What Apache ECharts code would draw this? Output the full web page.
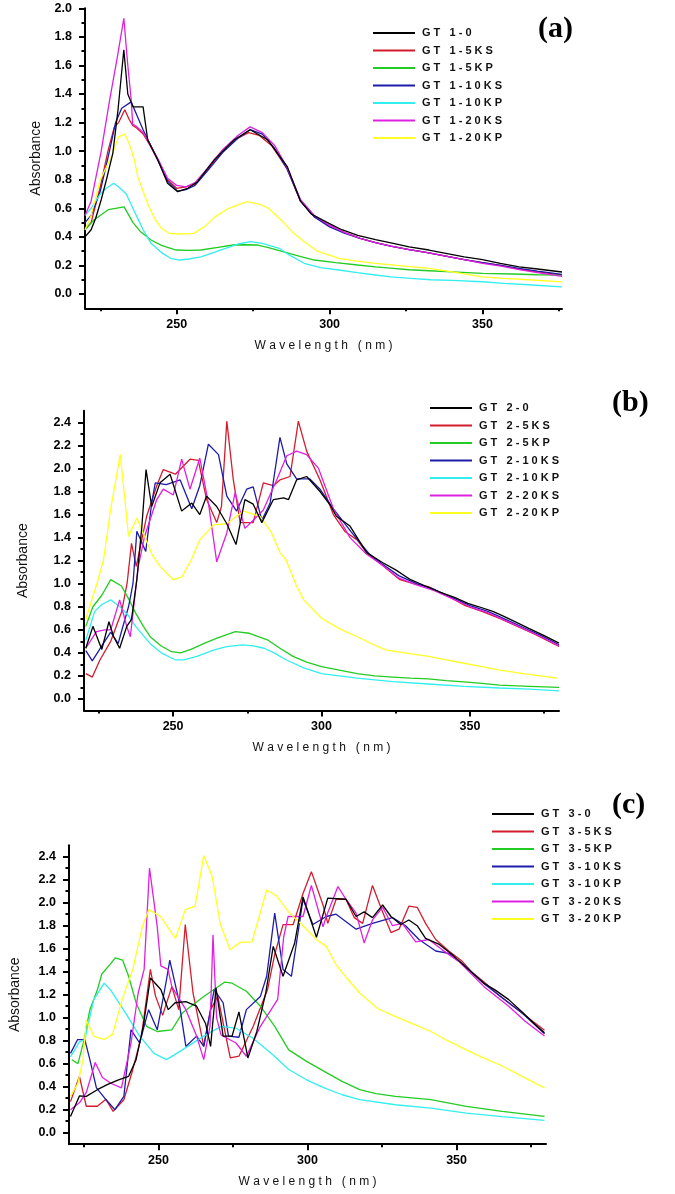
<!DOCTYPE html>
<html><head><meta charset="utf-8">
<script src="https://cdn.jsdelivr.net/npm/echarts@6/dist/echarts.min.js"></script>
<style>html,body{margin:0;padding:0;background:#fff}#c{width:675px;height:1194px}</style>
</head><body><div id="c"></div>
<script>
// ---------- Panel (a) ----------
const NAMES_A = ['GT 1-0','GT 1-5KS','GT 1-5KP','GT 1-10KS','GT 1-10KP','GT 1-20KS','GT 1-20KP'];
const A_0 = [[220,0.40],[222,0.45],[223.5,0.53],[225.3,0.66],[227,0.80],[229.1,0.985],[230.8,1.29],[232.7,1.71],[234,1.40],[235.7,1.31],[237.4,1.31],[239,1.31],[240.5,1.08],[243.8,0.94],[247,0.775],[250.3,0.716],[253.6,0.74],[256.8,0.786],[262.3,0.94],[268.8,1.08],[274,1.15],[279.7,1.08],[286.2,0.89],[290.5,0.65],[294,0.56],[299.8,0.495],[304,0.45],[309.2,0.41],[315,0.38],[320.8,0.355],[326,0.33],[332.5,0.308],[338,0.285],[344,0.26],[350,0.24],[355.8,0.215],[362,0.19],[368,0.175],[376,0.154]];
const A_5KS = [[220,0.45],[222,0.50],[225,0.75],[227.5,1.0],[229.6,1.17],[231,1.2],[233,1.29],[234.5,1.22],[235.6,1.18],[237,1.16],[239,1.12],[241,1.05],[244,0.93],[247,0.80],[250,0.74],[253,0.75],[256,0.77],[260,0.87],[265,1.0],[269,1.08],[273.5,1.13],[277,1.11],[281,1.04],[286,0.88],[290.5,0.65],[295,0.54],[300,0.48],[305,0.43],[310,0.39],[315,0.36],[320,0.335],[326,0.31],[332,0.29],[338,0.265],[344,0.24],[350,0.22],[356,0.2],[362,0.175],[368,0.155],[376,0.133]];
const A_5KP = [[220,0.45],[223,0.52],[227.6,0.59],[230,0.60],[232.8,0.61],[235.7,0.50],[238,0.44],[241.6,0.378],[245,0.34],[249.8,0.308],[254,0.305],[257.9,0.308],[263,0.325],[268.4,0.343],[272,0.345],[276.5,0.343],[280,0.325],[284.7,0.296],[290,0.265],[295,0.238],[302,0.22],[309.2,0.203],[315,0.19],[320.8,0.18],[326,0.17],[332.5,0.163],[340,0.155],[350,0.145],[360,0.14],[368,0.135],[376,0.132]];
const A_10KS = [[220,0.50],[222,0.55],[225,0.72],[228,1.0],[230,1.2],[232,1.30],[235.1,1.345],[237,1.25],[239,1.15],[241,1.06],[244,0.93],[247,0.79],[250.3,0.72],[253,0.73],[256,0.76],[260,0.86],[265,0.99],[270,1.09],[274,1.15],[278,1.12],[282,1.02],[286,0.88],[290.5,0.65],[295,0.54],[300,0.47],[305,0.425],[310,0.39],[315,0.36],[320,0.335],[326,0.31],[332,0.29],[338,0.265],[344,0.24],[350,0.22],[356,0.2],[362,0.18],[368,0.16],[376,0.138]];
const A_10KP = [[220,0.55],[222,0.60],[225,0.70],[227,0.74],[229.4,0.775],[231.5,0.74],[233.5,0.70],[235,0.63],[237,0.54],[239,0.45],[241.6,0.355],[245,0.29],[248,0.25],[250.9,0.238],[254,0.245],[257.9,0.26],[262,0.29],[266,0.32],[270,0.35],[274.2,0.366],[278,0.355],[283.5,0.32],[287,0.27],[291.7,0.215],[297,0.185],[303,0.168],[309,0.15],[315,0.133],[320,0.12],[326.6,0.11],[333,0.1],[340,0.095],[350,0.086],[357,0.075],[365,0.065],[376,0.05]];
const A_20KS = [[220,0.55],[222,0.65],[225.3,1.0],[228,1.35],[230.5,1.65],[232.7,1.93],[234,1.6],[235.1,1.36],[235.6,1.19],[237,1.17],[239,1.13],[241,1.06],[244,0.94],[247,0.81],[250,0.76],[253,0.75],[256,0.78],[260,0.88],[265,1.01],[270,1.11],[274,1.17],[278,1.13],[282,1.04],[286,0.89],[290.5,0.66],[295,0.55],[300,0.48],[305,0.43],[310,0.39],[315,0.36],[320,0.335],[326,0.31],[332,0.29],[338,0.265],[344,0.24],[350,0.215],[356,0.195],[362,0.17],[368,0.15],[376,0.123]];
const A_20KP = [[220,0.45],[222,0.55],[225,0.80],[228.6,0.96],[231,1.10],[233,1.12],[234.5,1.05],[236,0.95],[237.3,0.82],[240.5,0.63],[243,0.52],[245,0.46],[247.5,0.425],[251,0.42],[255.6,0.425],[259,0.47],[262.5,0.54],[267,0.60],[273,0.646],[277,0.63],[280,0.60],[285,0.50],[288,0.43],[291.7,0.366],[296,0.3],[303,0.25],[309,0.23],[315,0.215],[322,0.2],[332.5,0.18],[340,0.155],[350,0.12],[357,0.11],[365,0.1],[376,0.085]];

// ---------- Panel (b) ----------
const NAMES_B = ['GT 2-0','GT 2-5KS','GT 2-5KP','GT 2-10KS','GT 2-10KP','GT 2-20KS','GT 2-20KP'];
const B_0 = [[220.6,0.44],[223,0.63],[226,0.43],[228.4,0.67],[230,0.54],[232,0.44],[234.4,0.63],[236,0.69],[237.8,1.035],[239.5,1.50],[240.9,1.99],[242.8,1.67],[245.6,1.875],[249,1.95],[252.9,1.63],[256.3,1.70],[259,1.60],[261.3,1.76],[264.7,1.67],[268.1,1.52],[271.2,1.34],[274.2,1.73],[277,1.69],[279.9,1.53],[283.8,1.73],[287.2,1.745],[288.9,1.73],[291.6,1.90],[295,1.93],[299.5,1.80],[303,1.68],[305,1.585],[309.6,1.50],[315.2,1.27],[320.8,1.18],[325,1.12],[330,1.035],[335,0.98],[339.6,0.93],[345,0.88],[349.3,0.83],[353,0.80],[357.7,0.76],[362,0.71],[366,0.66],[370,0.61],[375,0.55],[380,0.485]];
const B_5KS = [[220.6,0.22],[222.8,0.19],[225.4,0.34],[229,0.50],[232.6,0.75],[234.5,1.0],[236,1.35],[237.6,1.15],[241.1,1.585],[244.5,1.85],[246.7,1.99],[250.8,1.95],[255.7,2.08],[258.5,2.07],[261.3,1.73],[264.7,1.53],[266.3,1.67],[268.1,2.41],[270.3,1.90],[272.6,1.53],[277,1.53],[280.4,1.875],[283.8,1.85],[286,1.90],[289.4,1.93],[292.2,2.41],[295,2.15],[299.5,1.90],[304,1.6],[308,1.45],[312,1.38],[315.2,1.27],[320,1.17],[326.4,1.035],[331,1.0],[336,0.975],[342,0.9],[348,0.815],[354,0.76],[360,0.70],[366,0.63],[372,0.56],[380,0.455]];
const B_5KP = [[220.6,0.63],[223,0.80],[226,0.90],[229,1.035],[232.6,0.98],[235,0.87],[237.4,0.745],[240,0.63],[242.3,0.54],[246,0.46],[249.5,0.41],[252.5,0.40],[256,0.43],[260.3,0.48],[265,0.53],[271,0.585],[275.7,0.57],[282,0.51],[286,0.44],[290.4,0.37],[295,0.32],[300,0.28],[306,0.25],[312,0.22],[318,0.20],[324,0.19],[330,0.18],[336,0.175],[342,0.16],[348,0.148],[354,0.135],[360,0.12],[370,0.11],[380,0.10]];
const B_10KS = [[220.6,0.42],[222.8,0.33],[226,0.46],[229,0.58],[231.5,0.48],[233,0.62],[235,0.80],[236.5,1.0],[237.8,1.455],[240.8,1.28],[242.8,1.70],[244,1.875],[247.7,1.86],[252.4,1.90],[256.3,1.65],[259,1.85],[261.9,2.21],[265.3,2.12],[268.1,1.76],[271.4,1.63],[274.8,1.82],[277,1.84],[279.9,1.55],[282.7,1.70],[286,2.27],[288.3,2.04],[291.6,1.91],[296,1.91],[299.5,1.82],[304,1.65],[310,1.45],[316,1.26],[320,1.18],[326,1.07],[332,1.0],[338,0.95],[344,0.88],[350,0.81],[356,0.76],[362,0.69],[368,0.62],[374,0.55],[380,0.47]];
const B_10KP = [[220.6,0.51],[223.6,0.76],[226,0.82],[229,0.86],[232.6,0.79],[235,0.72],[237.4,0.63],[240,0.55],[242.3,0.48],[246,0.40],[250.7,0.34],[253.6,0.34],[258,0.37],[263.9,0.426],[268,0.455],[273.5,0.47],[277,0.46],[280.7,0.44],[284,0.40],[288,0.34],[294,0.27],[300,0.22],[306,0.2],[312,0.18],[318,0.165],[324,0.15],[336,0.13],[348,0.11],[360,0.095],[370,0.085],[380,0.07]];
const B_20KS = [[220.6,0.44],[224.2,0.585],[227,0.60],[229,0.60],[232,0.86],[234.4,0.63],[235.6,0.54],[237.4,0.95],[238.3,1.15],[240.4,1.41],[244.5,1.73],[246.7,1.82],[250.1,1.77],[252.9,2.08],[255.7,1.82],[259,2.09],[261.9,1.70],[264.7,1.19],[268.1,1.44],[270.9,1.79],[274.2,1.48],[277,1.55],[280.4,1.64],[284.9,1.90],[288.3,2.11],[291.6,2.15],[295,2.12],[299,2.0],[304,1.65],[309.6,1.40],[315,1.26],[320,1.17],[326,1.05],[332,0.99],[338,0.94],[344,0.87],[350,0.8],[356,0.75],[362,0.68],[368,0.61],[374,0.54],[380,0.46]];
const B_20KP = [[220.6,0.69],[222.5,0.85],[224.7,1.03],[226.6,1.21],[229,1.65],[232.2,2.12],[233.5,1.8],[235,1.41],[237.8,1.57],[240.4,1.41],[243,1.25],[245.6,1.15],[250.1,1.035],[253,1.06],[256,1.2],[259,1.38],[263.6,1.51],[268.1,1.52],[273.7,1.63],[279.3,1.585],[283,1.45],[286,1.27],[288,1.21],[291.6,0.98],[294,0.86],[300,0.70],[306,0.61],[312,0.54],[316,0.49],[321.6,0.426],[328,0.40],[336,0.37],[342,0.34],[348,0.31],[354,0.28],[360,0.25],[368,0.22],[379.3,0.18]];

// ---------- Panel (c) ----------
const NAMES_C = ['GT 3-0','GT 3-5KS','GT 3-5KP','GT 3-10KS','GT 3-10KP','GT 3-20KS','GT 3-20KP'];
const C_0 = [[220.5,0.14],[223.5,0.32],[225.8,0.316],[229.5,0.374],[233,0.42],[236.6,0.46],[240,0.49],[242.5,0.635],[244.9,0.925],[247.3,1.345],[250.8,1.245],[253.3,1.07],[255.6,1.13],[259.2,1.14],[262.8,1.10],[265.8,0.95],[267.5,0.75],[269.3,1.26],[271.7,0.84],[274.7,0.84],[277,1.05],[280,0.65],[283,0.88],[286,1.215],[288.5,1.62],[291.8,1.36],[295.7,1.65],[298.5,2.05],[303,1.70],[306.8,2.04],[312.9,2.03],[316.3,1.88],[319,1.92],[321.8,1.87],[325.2,1.98],[328,1.88],[331.3,1.81],[334,1.85],[336.8,1.80],[339.6,1.69],[344,1.64],[348.5,1.55],[354,1.42],[359.2,1.30],[363,1.24],[367.5,1.157],[372,1.05],[376,0.95],[379.5,0.87]];
const C_5KS = [[220.5,0.27],[223.5,0.49],[225.8,0.23],[229.5,0.23],[232.4,0.29],[234.8,0.185],[238.4,0.287],[241.4,0.55],[244.3,0.84],[247.3,1.42],[249,1.19],[251.4,1.02],[254.5,1.27],[256.8,1.07],[259,1.81],[261.6,1.215],[265.2,0.75],[267.5,1.07],[269.9,1.185],[274.1,0.65],[277,0.665],[281.8,0.925],[286.6,1.245],[289,1.55],[291.8,1.81],[295.2,1.81],[298.5,2.08],[301.3,2.27],[305.2,1.98],[306.8,1.82],[309.6,2.03],[312.9,2.03],[315.7,1.87],[318.5,1.82],[321.8,2.15],[325.2,1.92],[328,1.74],[330.7,1.77],[334,1.97],[336.8,1.96],[339.6,1.82],[343,1.68],[347.4,1.58],[351.9,1.49],[355,1.40],[359.2,1.31],[364,1.2],[368,1.12],[374,1.0],[379.5,0.89]];
const C_5KP = [[221,0.635],[223,0.60],[225,0.80],[227,1.07],[229.5,1.24],[231,1.38],[234,1.47],[235.5,1.52],[238,1.50],[240,1.36],[242.5,1.13],[246,0.925],[249.6,0.88],[254.5,0.895],[258,1.04],[265.2,1.185],[272.3,1.31],[274.7,1.30],[279.5,1.23],[284.2,1.10],[289,0.925],[293.7,0.72],[299.7,0.62],[305.6,0.533],[311.6,0.446],[317.5,0.374],[323,0.34],[329.5,0.316],[341.4,0.287],[353.3,0.229],[365.3,0.186],[379.5,0.142]];
const C_10KS = [[220.5,0.69],[222.9,0.81],[225.3,0.81],[227,0.635],[229.2,0.39],[232,0.30],[235.4,0.20],[238.4,0.316],[240.8,0.895],[243.7,0.78],[246.7,1.07],[249.6,0.895],[252.7,1.33],[253.8,1.50],[256.8,1.157],[259.2,0.75],[262.8,0.84],[265.2,0.75],[268.7,1.245],[271.7,1.13],[273.5,0.84],[277,0.83],[279.5,1.07],[284.2,1.185],[286.3,1.36],[289,1.91],[291.8,1.42],[294.6,1.36],[298.5,2.03],[301.8,1.81],[306.3,1.88],[309.6,1.90],[316.3,1.77],[321.8,1.82],[328.5,1.87],[332.9,1.80],[337.4,1.68],[343,1.58],[347.4,1.56],[352.9,1.45],[359,1.30],[365,1.18],[372,1.04],[379.5,0.86]];
const C_10KP = [[220.5,0.66],[223.5,0.79],[225.3,0.81],[228.3,1.157],[231.8,1.30],[234,1.24],[239,1.04],[243.7,0.84],[248.5,0.69],[252.7,0.635],[258,0.72],[265.2,0.84],[271,0.925],[275.9,0.91],[281.8,0.82],[287.8,0.69],[293.7,0.55],[299.7,0.46],[305.6,0.39],[311.6,0.33],[317.5,0.287],[329.5,0.243],[341.4,0.214],[353.3,0.17],[365.3,0.14],[379.5,0.107]];
const C_20KS = [[220.5,0.20],[223.5,0.26],[225.8,0.35],[228.8,0.61],[231.2,0.48],[234,0.43],[237.6,0.39],[240.8,0.78],[243.2,1.215],[245.2,1.42],[247,2.30],[249.6,1.79],[250.8,1.45],[253.2,1.42],[254.5,1.27],[259.2,1.07],[262.8,0.84],[265.2,0.635],[267.3,0.925],[268.3,1.72],[269.5,1.0],[271,0.85],[276,0.78],[279.5,0.665],[284.2,0.925],[290,1.16],[292,1.7],[293.5,1.88],[298.5,1.88],[301.3,2.15],[305.2,1.79],[306.3,1.88],[310.2,2.14],[312.9,2.03],[316.3,1.91],[319,1.65],[321.8,1.85],[325.2,1.96],[328.5,1.80],[331.8,1.82],[336.3,1.66],[340.7,1.68],[345.2,1.59],[350.7,1.49],[355,1.38],[359.2,1.27],[367.5,1.10],[373,0.97],[379.5,0.84]];
const C_20KP = [[220.5,0.316],[223,0.43],[224.7,0.635],[225.8,0.98],[228.3,0.84],[231.8,0.81],[234.6,0.855],[237.8,1.157],[241.4,1.42],[244.6,1.79],[246.8,1.94],[250.7,1.88],[255.7,1.69],[259,1.94],[262.3,1.97],[265.2,2.41],[268,2.23],[270.7,1.82],[274,1.59],[277.4,1.655],[281.4,1.66],[286.3,2.11],[289.6,2.06],[294,1.91],[298.5,1.80],[303,1.68],[306.3,1.62],[309.6,1.46],[313,1.35],[317.5,1.215],[323.5,1.08],[329.5,1.01],[335,0.95],[341.4,0.88],[347,0.80],[353.3,0.72],[359,0.65],[365.3,0.58],[372,0.49],[379.5,0.39]];

// ---------- Ticks ----------
const X_MAJOR = [250, 300, 350];
const X_MINOR = [225, 275, 325, 375];
const Y_MAJOR_A = [0, 0.2, 0.4, 0.6, 0.8, 1.0, 1.2, 1.4, 1.6, 1.8, 2.0];
const Y_MINOR_A = [0.1, 0.3, 0.5, 0.7, 0.9, 1.1, 1.3, 1.5, 1.7, 1.9];
const Y_MAJOR_BC = [0, 0.2, 0.4, 0.6, 0.8, 1.0, 1.2, 1.4, 1.6, 1.8, 2.0, 2.2, 2.4];
const Y_MINOR_BC = [0.1, 0.3, 0.5, 0.7, 0.9, 1.1, 1.3, 1.5, 1.7, 1.9, 2.1, 2.3];
const COLORS = ['#000000', '#d41c2c', '#22cc22', '#1c1ca8', '#33eeee', '#e020e0', '#ffff22'];

const PANELS = [
  { names: NAMES_A, data: [A_0, A_5KS, A_5KP, A_10KS, A_10KP, A_20KS, A_20KP], xMax: 376, yMax: 2.0, yMajor: Y_MAJOR_A, yMinor: Y_MINOR_A,
    grid: { left: 85, top: 8.3, width: 477, height: 300 }, legend: { left: 368, top: 20.5 }, tag: '(a)', tagPos: [538, 14], yNameGap: 42 },
  { names: NAMES_B, data: [B_0, B_5KS, B_5KP, B_10KS, B_10KP, B_20KS, B_20KP], xMax: 380, yMax: 2.5, yMajor: Y_MAJOR_BC, yMinor: Y_MINOR_BC,
    grid: { left: 84, top: 410.8, width: 475, height: 299.7 }, legend: { left: 425, top: 395.5 }, tag: '(b)', tagPos: [612, 388], yNameGap: 54 },
  { names: NAMES_C, data: [C_0, C_5KS, C_5KP, C_10KS, C_10KP, C_20KS, C_20KP], xMax: 380, yMax: 2.5, yMajor: Y_MAJOR_BC, yMinor: Y_MINOR_BC,
    grid: { left: 66, top: 845.2, width: 480, height: 299 }, legend: { left: 487, top: 801.5 }, tag: '(c)', tagPos: [612, 790], yNameGap: 47 }
];

const FONT = 'Liberation Sans, Arial, sans-serif';
const spaced = s => s.split(' ').map(w => w.split('').join(' ')).join('   ');

const option = { animation: false, backgroundColor: '#fff', grid: [], xAxis: [], yAxis: [], series: [], legend: [], graphic: [] };

PANELS.forEach((p, i) => {
  option.grid.push(p.grid);
  const axisLine = { show: true, onZero: false, lineStyle: { color: '#000', width: 2 } };
  option.xAxis.push({
    type: 'value', gridIndex: i, min: 220, max: p.xMax, splitLine: { show: false },
    axisLine, axisTick: { show: true, inside: false, length: 6, customValues: X_MAJOR, lineStyle: { color: '#000', width: 2 } },
    axisLabel: { customValues: X_MAJOR, margin: 10, color: '#000', fontSize: 12.5, fontWeight: 'bold', fontFamily: FONT },
    name: 'W a v e l e n g t h   ( n m )', nameLocation: 'middle', nameGap: 31,
    nameTextStyle: { color: '#111', fontSize: 12, fontFamily: FONT }
  });
  option.xAxis.push({
    type: 'value', gridIndex: i, min: 220, max: p.xMax, position: 'bottom', offset: 0, splitLine: { show: false },
    axisLine: { show: false, onZero: false }, axisLabel: { show: false },
    axisTick: { show: true, inside: false, length: 3, customValues: X_MINOR, lineStyle: { color: '#000', width: 2 } }
  });
  option.yAxis.push({
    type: 'value', gridIndex: i, min: -0.1, max: p.yMax, splitLine: { show: false },
    axisLine, axisTick: { show: true, inside: false, length: 6, customValues: p.yMajor, lineStyle: { color: '#000', width: 2 } },
    axisLabel: { customValues: p.yMajor, margin: 13, color: '#000', fontSize: 12.5, fontWeight: 'bold', fontFamily: FONT,
      formatter: v => Number(v).toFixed(1) },
    name: 'Absorbance', nameLocation: 'middle', nameGap: p.yNameGap,
    nameTextStyle: { color: '#111', fontSize: 14, fontFamily: FONT }
  });
  option.yAxis.push({
    type: 'value', gridIndex: i, min: -0.1, max: p.yMax, position: 'left', offset: 0, splitLine: { show: false },
    axisLine: { show: false, onZero: false }, axisLabel: { show: false },
    axisTick: { show: true, inside: false, length: 3.5, customValues: p.yMinor, lineStyle: { color: '#000', width: 2 } }
  });
  p.names.forEach((n, k) => {
    option.series.push({
      type: 'line', name: n, xAxisIndex: 2 * i, yAxisIndex: 2 * i, data: p.data[k],
      showSymbol: false, symbol: 'none', color: COLORS[k], lineStyle: { width: 1.3, color: COLORS[k] },
      emphasis: { disabled: true }, z: 2 + (k === 0 ? 1 : 0)
    });
  });
  option.legend.push({
    data: p.names, orient: 'vertical', left: p.legend.left, top: p.legend.top,
    itemWidth: 42, itemHeight: 2, itemGap: 2.5, icon: 'rect', selectedMode: false,
    formatter: spaced,
    textStyle: { fontSize: 11, fontWeight: 'bold', lineHeight: 15, color: '#111', fontFamily: FONT, padding: [0, 0, 0, 2] }
  });
  option.graphic.push({
    type: 'text', left: p.tagPos[0], top: p.tagPos[1],
    style: { text: p.tag, fill: '#000', font: 'bold 30px "Liberation Serif", "Times New Roman", serif' }
  });
});

const chart = echarts.init(document.getElementById('c'), null, { renderer: 'canvas' });
chart.setOption(option);
</script>
</body></html>
